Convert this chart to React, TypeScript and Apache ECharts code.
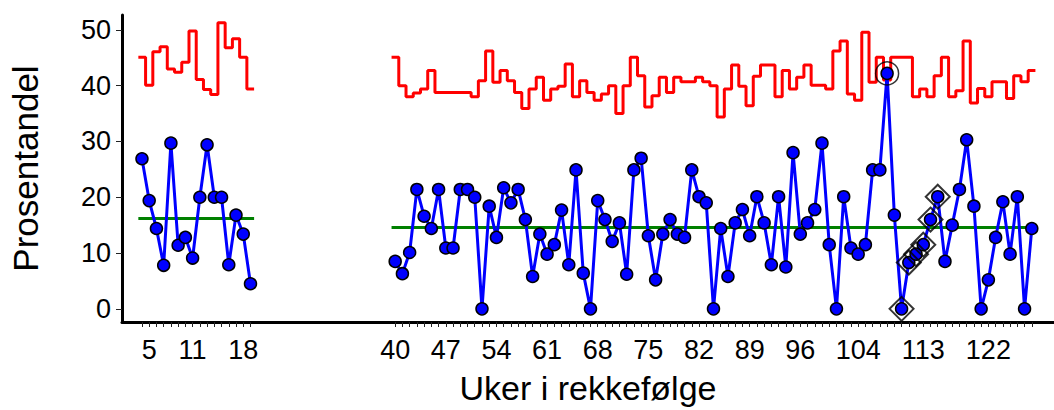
import React, { useEffect, useRef } from "react";
import * as echarts from "echarts";

// ---------- data ----------
const weeks1 = [4, 5, 6, 7, 8, 9, 10, 11, 12, 13, 14, 15, 16, 17, 18, 19];
const rate1 = [26.9, 19.4, 14.4, 7.8, 29.7, 11.4, 12.8, 9.1, 20.0, 29.4, 20.0, 20.0, 7.9, 16.8, 13.4, 4.5];
const ucl1 = [45.1, 40.1, 46.1, 47.0, 43.0, 42.4, 44.2, 49.8, 41.1, 39.3, 38.4, 51.3, 46.8, 48.4, 45.1, 39.4];
const cl1 = 16.2;

const weeks2 = [
  40, 41, 42, 43, 44, 45, 46, 47, 48, 49, 50, 51, 52, 53, 54, 55, 56, 57, 58, 59,
  60, 61, 62, 63, 64, 65, 66, 67, 68, 69, 70, 71, 72, 73, 74, 75, 76, 77, 78, 79,
  80, 81, 82, 83, 84, 85, 86, 87, 88, 89, 90, 91, 92, 93, 94, 95, 96, 97, 98, 99,
  100, 101, 102, 103, 104, 105, 106, 107, 108, 109, 110, 111, 112, 113, 114, 115, 116, 117, 118, 119,
  120, 121, 122, 123, 124, 125, 126, 127, 128,
];
const rate2 = [
  8.5, 6.3, 10.1, 21.4, 16.6, 14.4, 21.4, 10.9, 10.9, 21.4,
  21.4, 20.0, 0, 18.4, 12.8, 21.7, 19.0, 21.4, 16.0, 5.8,
  13.4, 9.8, 11.5, 17.7, 7.9, 24.9, 6.4, 0, 19.4, 16.0,
  12.1, 15.4, 6.2, 24.9, 27.0, 13.1, 5.2, 13.4, 16.0, 13.4,
  12.8, 24.9, 20.1, 19.0, 0, 14.4, 5.8, 15.4, 17.8, 13.1,
  20.1, 15.4, 7.9, 20.1, 7.5, 28.0, 13.4, 15.4, 17.8, 29.7,
  11.5, 0, 20.1, 10.9, 9.8, 11.5, 24.9, 24.9, 42.2, 16.8,
  0, 8.3, 9.8, 11.5, 16.0, 20.1, 8.5, 15.0, 21.4, 30.3,
  18.4, 0, 5.2, 12.8, 19.2, 9.8, 20.1, 0, 14.4,
];
const ucl2 = [
  45.1, 40.0, 38.0, 38.7, 39.4, 42.7, 38.8, 38.8, 38.8, 38.8,
  38.8, 38.0, 40.9, 46.2, 40.6, 42.7, 40.9, 38.8, 35.9, 39.4,
  41.5, 37.4, 39.4, 39.9, 43.9, 38.0, 40.9, 38.8, 37.4, 38.5,
  40.0, 35.0, 40.0, 45.1, 41.8, 36.2, 38.2, 41.5, 38.8, 41.5,
  40.7, 40.7, 41.5, 40.7, 40.0, 34.4, 39.4, 43.7, 39.9, 36.4,
  41.7, 43.7, 43.7, 38.0, 42.7, 39.4, 41.5, 43.7, 40.1, 40.1,
  39.4, 46.2, 48.0, 38.5, 37.4, 49.6, 40.6, 45.1, 41.0, 45.1,
  45.1, 45.1, 38.0, 39.4, 38.0, 41.8, 45.1, 38.0, 39.1, 48.0,
  36.9, 39.5, 38.0, 40.7, 40.7, 37.7, 41.8, 40.7, 42.7,
];
const cl2 = 14.56;

const trendWeeks = [110, 111, 112, 113, 114, 115];
const outlierWeeks = [108];

const xTickLabels = [5, 11, 18, 40, 47, 54, 61, 68, 75, 82, 89, 96, 104, 113, 122];
const yTickLabels = [0, 10, 20, 30, 40, 50];

const GAP_SLOTS = 19; // empty sequence slots between the two periods

// ---------- helpers ----------
const idx1 = weeks1.map((_, i) => i);
const offset2 = weeks1.length + GAP_SLOTS;
const idx2 = weeks2.map((_, i) => offset2 + i);

const weekAt: Record<number, number> = {};
weeks1.forEach((w, i) => (weekAt[idx1[i]] = w));
weeks2.forEach((w, i) => (weekAt[idx2[i]] = w));
const idxOfWeek = (w: number) => {
  const a = weeks1.indexOf(w);
  if (a >= 0) return idx1[a];
  const b = weeks2.indexOf(w);
  return b >= 0 ? idx2[b] : NaN;
};
const rateOfWeek = (w: number) => {
  const a = weeks1.indexOf(w);
  if (a >= 0) return rate1[a];
  return rate2[weeks2.indexOf(w)];
};

const stepData = (xs: number[], ys: number[]) =>
  xs.flatMap((x, i) => [
    [x - 0.5, ys[i]],
    [x + 0.5, ys[i]],
  ]);

const FONT = "Liberation Sans, Arial, sans-serif";

export default function App() {
  const ref = useRef<HTMLDivElement>(null);

  useEffect(() => {
    document.body.style.margin = "0";
    if (!ref.current) return;
    const chart = echarts.init(ref.current, undefined, { renderer: "svg" });

    const lineBase = { type: "line", showSymbol: false, symbol: "none", animation: false };
    const pointStyle = {
      symbol: "circle",
      symbolSize: 12,
      itemStyle: { color: "#0000ff", borderColor: "#000", borderWidth: 1.5 },
      lineStyle: { color: "#0000ff", width: 3 },
    };

    chart.setOption({
      animation: false,
      textStyle: { fontFamily: FONT },
      grid: { left: 120, right: 0, top: 15, bottom: 85 },
      xAxis: {
        type: "value",
        min: -2.76,
        max: 126.07,
        name: "Uker i rekkefølge",
        nameLocation: "middle",
        nameGap: 49,
        nameTextStyle: { fontSize: 34, color: "#000", fontFamily: FONT },
        axisLine: { show: true, onZero: false, lineStyle: { color: "#000", width: 3 } },
        axisTick: {
          show: true,
          customValues: [...idx1, ...idx2],
          length: 5,
          lineStyle: { color: "#222", width: 1 },
        },
        axisLabel: {
          customValues: xTickLabels.map(idxOfWeek),
          formatter: (v: number) => String(weekAt[Math.round(v)] ?? ""),
          fontSize: 27,
          color: "#000",
          margin: 14,
          fontFamily: FONT,
        },
        splitLine: { show: false },
      },
      yAxis: {
        type: "value",
        min: -2.36,
        max: 52.67,
        name: "Prosentandel",
        nameLocation: "middle",
        nameGap: 79,
        nameTextStyle: { fontSize: 35, color: "#000", fontFamily: FONT },
        axisLine: { show: true, onZero: false, lineStyle: { color: "#000", width: 3 } },
        axisTick: {
          show: true,
          customValues: yTickLabels,
          length: 6,
          lineStyle: { color: "#222", width: 1 },
        },
        axisLabel: {
          customValues: yTickLabels,
          fontSize: 27,
          color: "#000",
          margin: 11,
          fontFamily: FONT,
        },
        splitLine: { show: false },
      },
      series: [
        { ...lineBase, name: "UCL1", data: stepData(idx1, ucl1), lineStyle: { color: "#ff0000", width: 3 }, z: 2 },
        { ...lineBase, name: "UCL2", data: stepData(idx2, ucl2), lineStyle: { color: "#ff0000", width: 3 }, z: 2 },
        {
          ...lineBase,
          name: "CL1",
          data: [
            [idx1[0] - 0.5, cl1],
            [idx1[idx1.length - 1] + 0.5, cl1],
          ],
          lineStyle: { color: "#008000", width: 3 },
          z: 2,
        },
        {
          ...lineBase,
          name: "CL2",
          data: [
            [idx2[0] - 0.5, cl2],
            [idx2[idx2.length - 1] + 0.5, cl2],
          ],
          lineStyle: { color: "#008000", width: 3 },
          z: 2,
        },
        {
          type: "line",
          name: "P1",
          data: idx1.map((x, i) => [x, rate1[i]]),
          showSymbol: true,
          ...pointStyle,
          z: 3,
        },
        {
          type: "line",
          name: "P2",
          data: idx2.map((x, i) => [x, rate2[i]]),
          showSymbol: true,
          ...pointStyle,
          z: 3,
        },
        {
          type: "scatter",
          name: "Trend",
          data: trendWeeks.map((w) => [idxOfWeek(w), rateOfWeek(w)]),
          symbol: "diamond",
          symbolSize: 24,
          itemStyle: { color: "rgba(0,0,0,0)", borderColor: "#000", borderWidth: 2 },
          z: 4,
        },
        {
          type: "scatter",
          name: "Outlier",
          data: outlierWeeks.map((w) => [idxOfWeek(w), rateOfWeek(w)]),
          symbol: "circle",
          symbolSize: 23,
          itemStyle: { color: "rgba(0,0,0,0)", borderColor: "#000", borderWidth: 1.5 },
          z: 4,
        },
      ],
    });

    return () => chart.dispose();
  }, []);

  return <div ref={ref} style={{ width: 1054, height: 410 }} />;
}
